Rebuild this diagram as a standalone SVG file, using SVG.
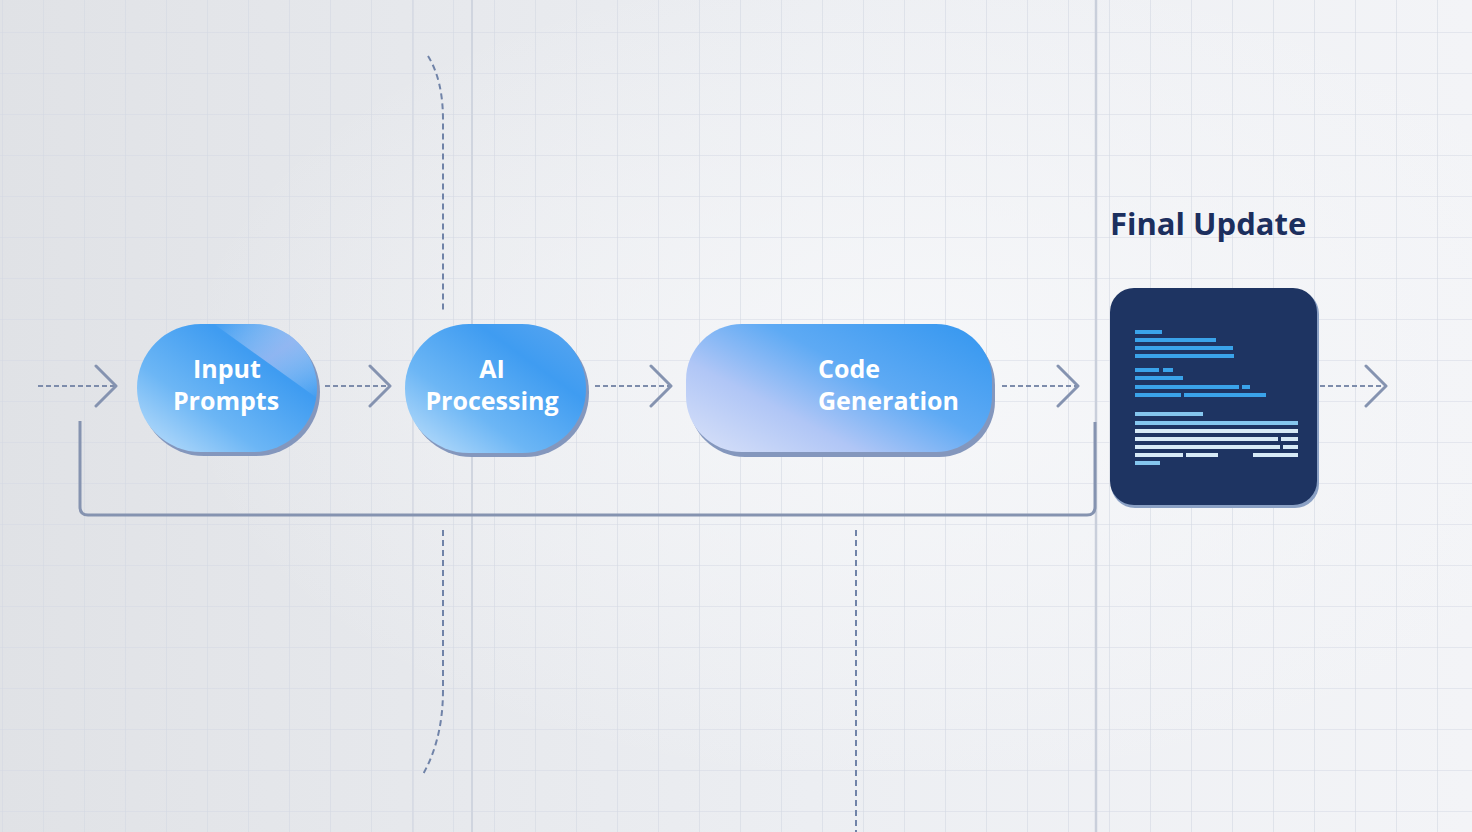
<svg xmlns="http://www.w3.org/2000/svg" width="1472" height="832" viewBox="0 0 1472 832">
<defs>
  <linearGradient id="bg" x1="0" y1="0" x2="1" y2="0">
    <stop offset="0" stop-color="#e0e2e6"/>
    <stop offset="0.55" stop-color="#eceef2"/>
    <stop offset="1" stop-color="#f3f4f7"/>
  </linearGradient>
  <radialGradient id="glow" cx="0.62" cy="0.45" r="0.5">
    <stop offset="0" stop-color="#f7f8fa" stop-opacity="0.9"/>
    <stop offset="1" stop-color="#f7f8fa" stop-opacity="0"/>
  </radialGradient>
  <pattern id="grid" width="41" height="41" patternUnits="userSpaceOnUse" x="2" y="32">
    <path d="M0 0H41M0 0V41" fill="none" stroke="#d3d8e3" stroke-width="1.2"/>
  </pattern>
  <linearGradient id="pillA" x1="0" y1="1" x2="1" y2="0">
    <stop offset="0" stop-color="#c4e2fb"/>
    <stop offset="0.35" stop-color="#6cb6f5"/>
    <stop offset="0.7" stop-color="#3f9cf1"/>
    <stop offset="1" stop-color="#5aa6f0"/>
  </linearGradient>
  <linearGradient id="sheen" x1="0" y1="0" x2="1" y2="1">
    <stop offset="0" stop-color="#ffffff" stop-opacity="0"/>
    <stop offset="0.5" stop-color="#c8c8f2" stop-opacity="0.7"/>
    <stop offset="1" stop-color="#ffffff" stop-opacity="0"/>
  </linearGradient>
  <linearGradient id="pillC" x1="0" y1="0.9" x2="1" y2="0.1">
    <stop offset="0" stop-color="#d4def8"/>
    <stop offset="0.3" stop-color="#b0c6f6"/>
    <stop offset="0.6" stop-color="#5eaaf4"/>
    <stop offset="1" stop-color="#3798f0"/>
  </linearGradient>
  <marker id="chev" viewBox="0 0 24 44" markerWidth="24" markerHeight="44" refX="22" refY="22" orient="auto" markerUnits="userSpaceOnUse">
    <path d="M2 2 L22 22 L2 42" fill="none" stroke="#8593b0" stroke-width="3" stroke-linecap="round" stroke-linejoin="round"/>
  </marker>
</defs>
<style>
  .dash{fill:none;stroke:#7d8cab;stroke-width:2;stroke-dasharray:5 3}
  .vdash{fill:none;stroke:#7083a8;stroke-width:2;stroke-dasharray:6 4}
  .loop{fill:none;stroke:#8593b0;stroke-width:3;stroke-linejoin:round}
  .lbl{font-family:"Open Sans","Liberation Sans",sans-serif;font-weight:700;fill:#ffffff;font-size:25px}
  .shadow{fill:#8497bd}
  .code1{fill:#3aa3ea}
  .code2{fill:#85c6ee}
  .code3{fill:#d7eaf6}
</style>
<rect width="1472" height="832" fill="url(#bg)"/>
<rect width="1472" height="832" fill="url(#glow)"/>
<rect width="1472" height="832" fill="url(#grid)"/>
<line x1="472" y1="0" x2="472" y2="832" stroke="#d0d5df" stroke-width="2"/>
<line x1="413" y1="0" x2="413" y2="832" stroke="#d6dae3" stroke-width="1.5"/>
<line x1="1096" y1="0" x2="1096" y2="832" stroke="#c9cfdb" stroke-width="2.5"/>

<g id="guides">
  <path class="vdash" d="M428 56 Q443 80 443 120 V312"/>
  <path class="vdash" d="M443 530 V690 Q443 740 422 776"/>
  <path class="vdash" d="M856 530 V832"/>
</g>

<g id="connectors">
  <path class="dash" d="M38 386 H116" marker-end="url(#chev)"/>
  <path class="dash" d="M325 386 H390" marker-end="url(#chev)"/>
  <path class="dash" d="M595 386 H671" marker-end="url(#chev)"/>
  <path class="dash" d="M1002 386 H1078" marker-end="url(#chev)"/>
  <path class="dash" d="M1320 386 H1386" marker-end="url(#chev)"/>
  <path class="loop" d="M1095 422 V507 Q1095 515 1087 515 H88 Q80 515 80 507 V421"/>
</g>

<g id="node-input">
  <rect class="shadow" x="140" y="328" width="180" height="128" rx="64"/>
  <rect x="137" y="324" width="180" height="128" rx="64" fill="url(#pillA)"/>
  <path d="M214 324 H253 A64 64 0 0 1 317 388 V398 Z" fill="url(#sheen)" opacity="0.8"/>
  <text class="lbl" x="227" y="378" text-anchor="middle">Input</text>
  <text class="lbl" x="226" y="410" text-anchor="middle">Prompts</text>
</g>

<g id="node-ai">
  <rect class="shadow" x="408" y="328" width="181" height="129" rx="64"/>
  <rect x="405" y="324" width="181" height="129" rx="64" fill="url(#pillA)"/>
  <text class="lbl" x="492" y="378" text-anchor="middle">AI</text>
  <text class="lbl" x="492" y="410" text-anchor="middle">Processing</text>
</g>

<g id="node-code">
  <rect class="shadow" x="689" y="329" width="306" height="128" rx="56"/>
  <rect x="686" y="324" width="306" height="128" rx="56" fill="url(#pillC)"/>
  <text class="lbl" x="818" y="378">Code</text>
  <text class="lbl" x="818" y="410">Generation</text>
</g>

<g id="node-final">
  <text x="1110" y="235" font-family="'Open Sans','Liberation Sans',sans-serif" font-weight="700" font-size="31" fill="#1c2f5e">Final Update</text>
  <rect x="1111" y="290" width="208" height="218" rx="24" fill="#8aa0c4"/>
  <rect x="1110" y="288" width="207" height="217" rx="24" fill="#1e3462"/>
  <g class="code1">
    <rect x="1135" y="330" width="27" height="4"/>
    <rect x="1135" y="338" width="81" height="4"/>
    <rect x="1135" y="346" width="98" height="4"/>
    <rect x="1135" y="354" width="99" height="4"/>
    <rect x="1135" y="368" width="24" height="4"/>
    <rect x="1163" y="368" width="10" height="4"/>
    <rect x="1135" y="376" width="48" height="4"/>
    <rect x="1135" y="385" width="104" height="4"/>
    <rect x="1242" y="385" width="8" height="4"/>
    <rect x="1135" y="393" width="46" height="4"/>
    <rect x="1184" y="393" width="82" height="4"/>
  </g>
  <g class="code2">
    <rect x="1135" y="412" width="68" height="4"/>
    <rect x="1135" y="421" width="163" height="4"/>
  </g>
  <g class="code3">
    <rect x="1135" y="429" width="163" height="4"/>
    <rect x="1135" y="437" width="143" height="4"/>
    <rect x="1281" y="437" width="17" height="4"/>
    <rect x="1135" y="445" width="145" height="4"/>
    <rect x="1283" y="445" width="15" height="4"/>
    <rect x="1135" y="453" width="48" height="4"/>
    <rect x="1186" y="453" width="32" height="4"/>
    <rect x="1253" y="453" width="45" height="4"/>
  </g>
  <rect class="code2" x="1135" y="461" width="25" height="4"/>
</g>
</svg>
